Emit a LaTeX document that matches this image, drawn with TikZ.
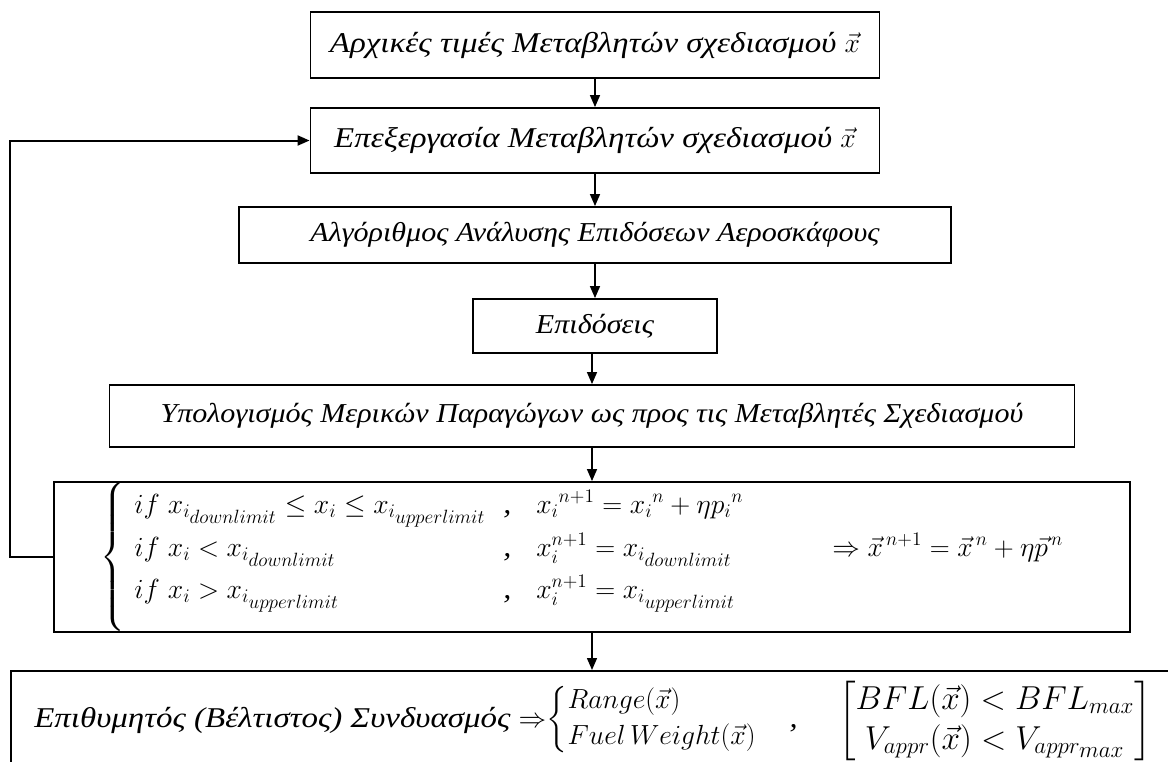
\documentclass[tikz,border=0pt]{standalone}
\usepackage{amsmath}
\usepackage{fontspec}
\setmainfont{Liberation Serif}[FakeStretch=1.1]
\newfontfamily\widefont{Liberation Serif}[FakeStretch=1.15]
\usetikzlibrary{arrows.meta}
\newcommand{\boxfont}{\fontsize{20.5}{24}\selectfont\itshape}
\newcommand{\eqboxfont}{\fontsize{21.5}{26}\selectfont\widefont\itshape}
\newcommand{\mathfont}{\fontsize{22}{26}\selectfont\itshape}
\tikzset{
  box/.style={draw, line width=1.4pt, inner sep=0pt, font=\boxfont},
  eqbox/.style={box, font=\eqboxfont},
  arr/.style={line width=1.1pt, -{Triangle[length=9pt,width=7.5pt]}},
  loopline/.style={line width=1.5pt, -{Triangle[length=9pt,width=7.5pt]}},
  txt/.style={inner sep=0pt, anchor=base west, font=\mathfont}
}
\begin{document}
\begin{tikzpicture}[x=0.75pt,y=-0.75pt]
\useasboundingbox (0,0) rectangle (1168,761);
\clip (0,0) rectangle (1168,761);
\node[eqbox, minimum width=426.75pt, minimum height=49.5pt] (b1) at (595,45)
  {Αρχικές τιμές Μεταβλητών σχεδιασμού $\vec{x}$};
\node[eqbox, minimum width=426.75pt, minimum height=48.75pt] (b2) at (595,140.5)
  {Επεξεργασία Μεταβλητών σχεδιασμού $\vec{x}$};
\node[box, minimum width=534pt, minimum height=42pt] (b3) at (595,235)
  {Αλγόριθμος Ανάλυσης Επιδόσεων Αεροσκάφους};
\node[box, minimum width=183pt, minimum height=40.5pt] (b4) at (595,326)
  {Επιδόσεις};
\node[box, minimum width=723.75pt, minimum height=46.5pt] (b5) at (592,416)
  {Υπολογισμός Μερικών Παραγώγων ως προς τις Μεταβλητές Σχεδιασμού};
\node[box, minimum width=807pt, minimum height=112.5pt] (b6) at (592,557) {};
\node[box, minimum width=900pt, minimum height=120pt, anchor=north west] (b7) at (10,670) {};
\coordinate (loopx) at (10,0);
% connectors
\draw[arr] (b1.south) -- (b2.north);
\draw[arr] (b2.south) -- (b3.north);
\draw[arr] (b3.south) -- (b4.north);
\draw[arr] (b4.south -| b5.north) -- (b5.north);
\draw[arr] (b5.south) -- (b6.north);
\draw[arr] (b6.south) -- (b6.south |- b7.north);
\draw[loopline] (b6.west) -- (b6.west -| loopx) |- (b2.west);
% box 6 content
\node[inner sep=0pt, anchor=west, font=\mathfont] (brace) at (100,557)
  {$\left\{\rule[-48pt]{0pt}{96pt}\right.$};
\node[txt] (r1a) at (134,513) {$if\ x_{i_{\scriptstyle downlimit}} \le x_i \le x_{i_{\scriptstyle upperlimit}}$};
\node[txt] (r1c) at (503,513) {,};
\node[txt] (r1b) at (536,513) {${x_i}^{n+1} = {x_i}^{n} + \eta {p_i}^{n}$};
\node[txt] (r2a) at (134,556) {$if\ x_i < x_{i_{\scriptstyle downlimit}}$};
\node[txt] (r2c) at (503,556) {,};
\node[txt] (r2b) at (536,556) {$x_i^{n+1} = x_{i_{\scriptstyle downlimit}}$};
\node[txt] (r2d) at (832,556) {$\Rightarrow \vec{x}^{\,n+1} = \vec{x}^{\,n} + \eta \vec{p}^{\,n}$};
\node[txt] (r3a) at (134,598) {$if\ x_i > x_{i_{\scriptstyle upperlimit}}$};
\node[txt] (r3c) at (503,598) {,};
\node[txt] (r3b) at (536,598) {$x_i^{n+1} = x_{i_{\scriptstyle upperlimit}}$};
% box 7 content
\node[inner sep=0pt, anchor=west, font=\eqboxfont] (f1) at (34,720)
  {Επιθυμητός (Βέλτιστος) Συνδυασμός $\Rightarrow$};
\node[inner sep=0pt, anchor=west, font=\fontsize{21}{25}\selectfont] (f1b) at (f1.east)
  {$\left\{\begin{array}{@{}l@{}} Range(\vec{x}) \\[2pt] Fuel\,Weight(\vec{x}) \end{array}\right.$};
\node[inner sep=0pt, anchor=west, font=\mathfont] (f2) at ([xshift=24pt,yshift=-6pt]f1b.east) {,};
\node[inner sep=0pt, anchor=east, font=\fontsize{25}{30}\selectfont] (f3) at (1152,721)
  {$\begin{bmatrix} BFL(\vec{x}) < BFL_{max} \\ V_{appr}(\vec{x}) < V_{appr_{\scriptstyle max}} \end{bmatrix}$};
\end{tikzpicture}
\end{document}
